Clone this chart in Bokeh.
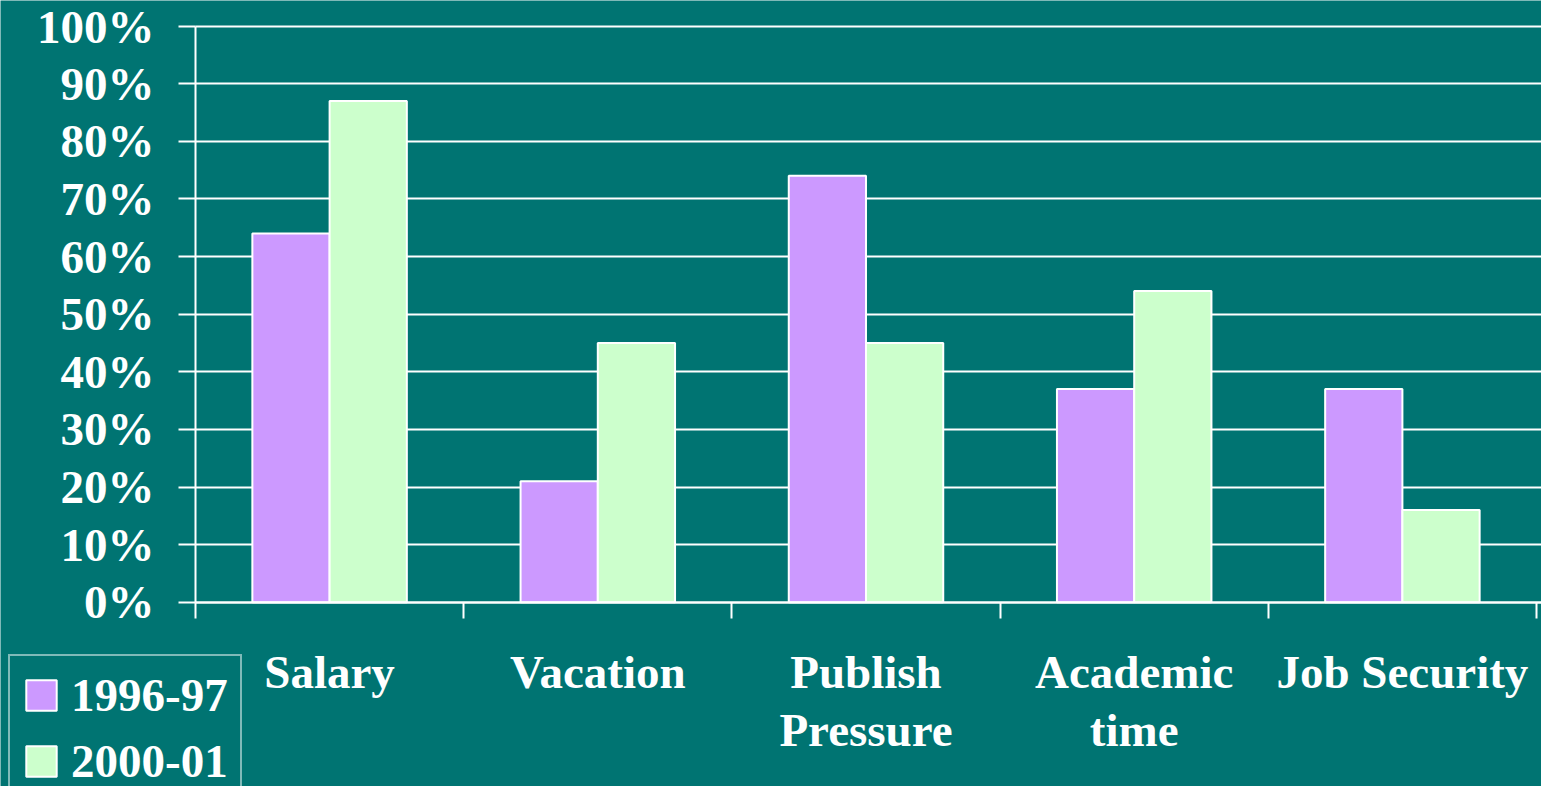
from bokeh.plotting import figure
from bokeh.models import (Range1d, FixedTicker, PrintfTickFormatter, Legend,
                          LegendItem, ColumnDataSource, Grid)
from bokeh.embed import file_html
from bokeh.resources import INLINE

# ---------------- data ----------------
categories = ["Salary", "Vacation", "Publish\nPressure", "Academic\ntime", "Job Security"]
series_names = ["1996-97", "2000-01"]
values_1996_97 = [64, 21, 74, 37, 37]
values_2000_01 = [87, 45, 45, 54, 16]
y_ticks = [0, 10, 20, 30, 40, 50, 60, 70, 80, 90, 100]

# ---------------- style / geometry ----------------
BG = "#007472"
PURPLE = "#CC99FF"
GREEN = "#CCFFCC"
FONT = "Liberation Serif"
BAR_W = 0.288

W, H = 1541, 786
AXIS_X_PX = 195.0       # screen x of the value axis
CAT_PX = 268.2          # pixels per category
ZERO_Y_PX = 601.8       # screen y (from top) of 0 %
UNIT_PX = 5.763         # pixels per percent

x_start = -AXIS_X_PX / CAT_PX
x_end = (W - AXIS_X_PX) / CAT_PX
y_end = ZERO_Y_PX / UNIT_PX
y_start = -(H - ZERO_Y_PX) / UNIT_PX

n = len(categories)
centers = [i + 0.5 for i in range(n)]
boundaries = [float(i) for i in range(n + 1)]

src1 = ColumnDataSource(dict(x=[c - BAR_W / 2 for c in centers], top=values_1996_97))
src2 = ColumnDataSource(dict(x=[c + BAR_W / 2 for c in centers], top=values_2000_01))

p = figure(width=W, height=H, output_backend="svg", toolbar_location=None,
           x_range=Range1d(x_start, x_end), y_range=Range1d(y_start, y_end),
           min_border_left=0, min_border_right=0, min_border_top=0,
           min_border_bottom=0)
p.title.visible = False
p.background_fill_color = BG
p.border_fill_color = BG
p.outline_line_color = None

r1 = p.vbar(x="x", top="top", bottom=0, width=BAR_W, source=src1,
            fill_color=PURPLE, line_color="white", line_width=2)
r2 = p.vbar(x="x", top="top", bottom=0, width=BAR_W, source=src2,
            fill_color=GREEN, line_color="white", line_width=2)

# x axis (category axis), drawn at 0 %
xa = p.xaxis[0]
xa.fixed_location = 0
xa.bounds = (0, x_end)
xa.ticker = FixedTicker(ticks=centers, minor_ticks=boundaries)
xa.major_label_overrides = {c: lab for c, lab in zip(centers, categories)}
xa.major_tick_in = 0
xa.major_tick_out = 0
xa.major_tick_line_color = None
xa.minor_tick_in = 0
xa.minor_tick_out = 16
xa.minor_tick_line_color = "white"
xa.minor_tick_line_width = 2
xa.axis_line_color = "white"
xa.axis_line_width = 2
xa.major_label_standoff = 28
xa.major_label_text_font = FONT
xa.major_label_text_font_style = "bold"
xa.major_label_text_font_size = "47px"
xa.major_label_text_color = "white"
xa.major_label_text_line_height = 1.1

# y axis (percent), drawn at the first category boundary
ya = p.yaxis[0]
ya.fixed_location = 0
ya.bounds = (0, 100)
ya.ticker = FixedTicker(ticks=y_ticks)
ya.formatter = PrintfTickFormatter(format="%d%%")
ya.major_tick_in = 0
ya.major_tick_out = 17
ya.major_tick_line_color = "white"
ya.major_tick_line_width = 2
ya.minor_tick_line_color = None
ya.axis_line_color = "white"
ya.axis_line_width = 2
ya.major_label_standoff = 24
ya.major_label_text_font = FONT
ya.major_label_text_font_style = "bold"
ya.major_label_text_font_size = "47px"
ya.major_label_text_color = "white"

p.xgrid.visible = False
yg = p.ygrid[0]
yg.ticker = FixedTicker(ticks=y_ticks)
yg.bounds = (0, 100)
yg.grid_line_color = "white"
yg.grid_line_width = 2
if "cross_bounds" in Grid.properties():
    yg.cross_bounds = (0, x_end)
else:
    yg.visible = False
    ya.major_tick_in = int(W - AXIS_X_PX) + 2
    ya.level = "underlay"

legend = Legend(
    items=[LegendItem(label=series_names[0], renderers=[r1]),
           LegendItem(label=series_names[1], renderers=[r2])],
    location=(8, -16), orientation="vertical",
    border_line_color="white", border_line_width=2,
    background_fill_alpha=0, padding=12, spacing=12, margin=0,
    glyph_width=38, glyph_height=38, label_standoff=11, label_height=38,
    label_text_font=FONT, label_text_font_style="bold",
    label_text_font_size="47px", label_text_color="white",
)
p.add_layout(legend)

html = file_html(p, INLINE)
html = html.replace("<body>", '<body style="background-color:%s">' % BG, 1)
open("out.html", "w").write(html)
